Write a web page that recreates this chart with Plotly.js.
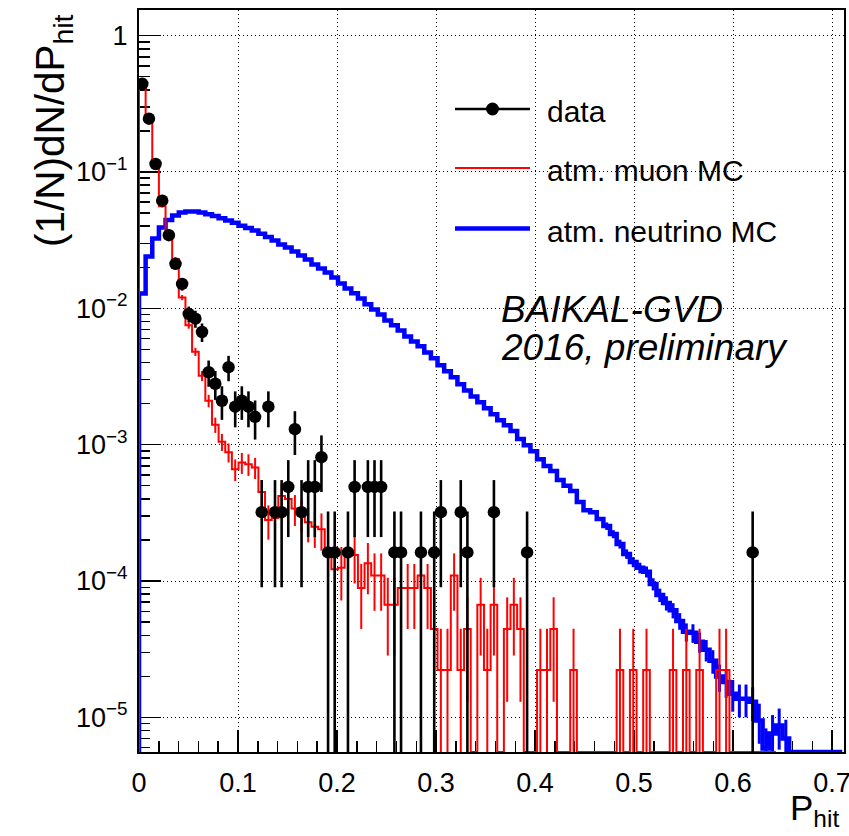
<!DOCTYPE html>
<html>
<head>
<meta charset="utf-8">
<script src="https://cdn.plot.ly/plotly-3.0.1.min.js"></script>
<style>
html,body{margin:0;padding:0;background:#ffffff;}
#chart{width:849px;height:836px;}
</style>
</head>
<body>
<div id="chart"></div>
<script>
// ---------------- data ----------------
const BIN_WIDTH = 0.0067;            // width of one P_hit bin

// data points: bin index, value (1/N dN/dP_hit), statistical error
const dataBins = [0,1,2,3,4,5,6,7,8,9,
  10,11,12,13,14,15,16,17,18,19,
  20,21,22,23,24,25,26,27,28,29,
  31,32,34,35,36,38,39,42,44,45,48,49,53,58,92];
const dataValues = [0.443,0.246,0.1145,0.0616,0.0344,0.0212,0.0151,0.0091,0.0084,0.0067,
  0.0034,0.0028,0.0021,0.0037,0.0019,0.0021,0.0019,0.0016,0.00032,0.0019,
  0.00032,0.00032,0.00049,0.0013,0.00032,0.00049,0.00049,0.00081,0.000162,0.000162,
  0.000162,0.00049,0.00049,0.00049,0.00049,0.000162,0.000162,0.000162,0.000162,0.00032,0.00032,0.000162,0.00032,0.000162,0.000162];
const dataErrors = [0.0085,0.0063,0.0043,0.0032,0.0024,0.0019,0.0016,0.0012,0.0012,0.00104,
  0.00074,0.00067,0.00058,0.00078,0.00056,0.00058,0.00056,0.00051,0.00023,0.00056,
  0.00023,0.00023,0.00028,0.00046,0.00023,0.00028,0.00028,0.00036,0.000162,0.000162,
  0.000162,0.00028,0.00028,0.00028,0.00028,0.000162,0.000162,0.000162,0.000162,0.00023,0.00023,0.000162,0.00023,0.000162,0.000162];

// atm. muon MC histogram (bin contents, one per bin from P_hit = 0)
const muonValues = [0.44,0.24,0.113,0.056,0.036,0.023,0.012,0.0075,0.0048,0.0032,
  0.0021,0.0014,0.00105,0.00088,0.00066,0.00074,0.00072,0.00068,0.00045,0.00028,
  0.00029,0.00042,0.00040,0.00034,0.00031,0.00027,0.00025,0.00024,0.00017,0.000122,
  0.000125,0.00017,0.000155,0.000089,0.000135,0.00011,0.00011,0.000067,0.000067,0.000089,
  0.000089,0.000089,0.00011,0.000089,0.0000445,0.0000223,0.0000223,0.00011,0.0000223,0.0000445,
  0,0.000067,0.0000223,0.000067,0,0.0000445,0.000067,0.0000445,0,0,
  0.0000223,0.0000223,0.0000445,0,0,0.0000223,0,0,0,0,
  0,0,0.0000223,0,0.0000223,0,0.0000223,0,0,0,
  0.0000223,0,0.0000223,0,0.0000223,0,0,0.0000223,0.0000223,0,
  0,0,0,0,0,0];
const muonErrors = [0.0031,0.0023,0.0016,0.0011,0.0009,0.00072,0.00052,0.00041,0.00033,0.00027,
  0.00022,0.00018,0.00015,0.00014,0.00012,0.00013,0.00013,0.00012,0.0001,0.000079,
  0.00008,0.000097,0.000094,0.000087,0.000083,0.000078,0.000075,0.000073,0.000062,0.000052,
  0.000053,0.000062,0.000059,0.0000445,0.000055,0.0000495,0.0000495,0.0000386,0.0000386,0.0000445,
  0.0000445,0.0000445,0.0000495,0.0000445,0.0000315,0.0000223,0.0000223,0.0000495,0.0000223,0.0000315,
  0,0.0000386,0.0000223,0.0000386,0,0.0000315,0.0000386,0.0000315,0,0,
  0.0000223,0.0000223,0.0000315,0,0,0.0000223,0,0,0,0,
  0,0,0.0000223,0,0.0000223,0,0.0000223,0,0,0,
  0.0000223,0,0.0000223,0,0.0000223,0,0,0.0000223,0.0000223,0,
  0,0,0,0,0,0];

// atm. neutrino MC histogram
const neutrinoValues = [0.01285,0.0240,0.0325,0.0391,0.0444,0.0479,0.0504,0.0512,0.0512,0.0504,
  0.0490,0.0475,0.0458,0.0440,0.0424,0.0404,0.0388,0.0372,0.0353,0.0333,
  0.0314,0.0294,0.0279,0.0261,0.0244,0.0228,0.0210,0.0196,0.0183,0.0168,
  0.0152,0.0140,0.0129,0.0118,0.0107,0.00982,0.00902,0.00815,0.00750,0.00689,
  0.00622,0.00572,0.00526,0.00475,0.00430,0.00382,0.00345,0.00312,0.00277,0.00250,
  0.00226,0.00205,0.00185,0.00167,0.00151,0.00139,0.00126,0.00110,0.00099,0.000896,
  0.000783,0.000697,0.000640,0.000550,0.000500,0.000457,0.000380,0.000331,0.000320,0.000285,
  0.000253,0.000221,0.000187,0.000158,0.000138,0.000125,0.000117,0.0000950,0.0000790,0.0000690,
  0.0000610,0.0000510,0.0000424,0.0000417,0.0000358,0.0000313,0.0000260,0.0000199,0.0000182,0.0000149,
  0.0000137,0.0000137,0.0000130,0.0000095,0.0000059,0.0000076,0.0000087,0.0000070,0,0,
  0,0,0,0,0,0];
const neutrinoErrors = [0,0,0,0,0,0,0,0,0,0,
  0,0,0,0,0,0,0,0,0,0,
  0,0,0,0,0,0,0,0,0,0,
  0,0,0,0,0,0,0,0,0,0,
  0,0,0,0,0,0,0,0,0,0,
  0,0,0,0,0,0,0,0,0,0,
  0,0,0,0,0,0,0,0,0,0,
  0.000016,0.000015,0.000014,0.0000126,0.0000117,0.0000112,0.0000108,0.0000097,0.0000089,0.0000083,
  0.0000078,0.0000071,0.0000065,0.0000065,0.000006,0.0000056,0.0000051,0.0000045,0.0000043,0.0000039,
  0.0000037,0.0000037,0.0000036,0.0000031,0.0000024,0.0000028,0.0000029,0.0000026,0,0,
  0,0,0,0,0,0];

// axes
const X_RANGE = [0, 0.712];
const Y_RANGE_LOG = [-5.254, 0.188];
const xTickValues = [0, 0.1, 0.2, 0.3, 0.4, 0.5, 0.6, 0.7];
const xTickLabels = ['0', '0.1', '0.2', '0.3', '0.4', '0.5', '0.6', '0.7'];
const yTickValues = [1e-5, 1e-4, 1e-3, 1e-2, 1e-1, 1];
const yTickLabels = ['10<sup>\u22125</sup>', '10<sup>\u22124</sup>', '10<sup>\u22123</sup>',
                     '10<sup>\u22122</sup>', '10<sup>\u22121</sup>', '1'];
const legendLabels = ['data', 'atm. muon MC', 'atm. neutrino MC'];
const xTitle = 'P<sub>hit</sub>';
const yTitle = '(1/N)dN/dP<sub>hit</sub>';
const stampLines = ['BAIKAL-GVD', '2016, preliminary'];

// ---------------- build the figure ----------------
const FONT = 'Liberation Sans, Arial, Helvetica, sans-serif';
const Y_FLOOR = Math.pow(10, Y_RANGE_LOG[0]);
const RED = '#ff0000', BLUE = '#0000ff';

function stepTrace(values, color, width, name) {
  const xs = [0], ys = [Y_FLOOR];
  values.forEach((v, i) => { xs.push(i * BIN_WIDTH); ys.push(v > 0 ? v : Y_FLOOR); });
  const end = values.length * BIN_WIDTH;
  xs.push(end); ys.push(ys[ys.length - 1]);
  xs.push(end); ys.push(Y_FLOOR);
  return {x: xs, y: ys, type: 'scatter', mode: 'lines', name: name,
          line: {shape: 'hv', color: color, width: width}, hoverinfo: 'skip', showlegend: false};
}
function errorTrace(values, errors, color, thickness) {
  return {x: values.map((v, i) => (i + 0.5) * BIN_WIDTH),
          y: values.map(v => v > 0 ? v : null),
          type: 'scatter', mode: 'markers', marker: {size: 1, color: 'rgba(0,0,0,0)'},
          error_y: {type: 'data', array: errors, symmetric: true, visible: true,
                    color: color, thickness: thickness, width: 0},
          hoverinfo: 'skip', showlegend: false};
}

const traces = [
  stepTrace(neutrinoValues, BLUE, 4.5, legendLabels[2]),
  errorTrace(neutrinoValues, neutrinoErrors, BLUE, 3),
  stepTrace(muonValues, RED, 2, legendLabels[1]),
  errorTrace(muonValues, muonErrors, RED, 2),
  {x: dataBins.map(b => (b + 0.5) * BIN_WIDTH), y: dataValues, type: 'scatter', mode: 'markers',
   name: legendLabels[0], marker: {size: 12.5, color: '#000000'},
   error_y: {type: 'data', array: dataErrors, symmetric: true, visible: true, color: '#000000', thickness: 2.6, width: 0},
   hoverinfo: 'skip', showlegend: false}
];

const yMinor = [];
for (let e = -6; e <= 0; e++) for (let m = 2; m <= 9; m++) {
  const v = m * Math.pow(10, e);
  const l = Math.log10(v);
  if (l > Y_RANGE_LOG[0] && l < Y_RANGE_LOG[1]) yMinor.push(v);
}

// paper-coordinate helpers for plot-relative placement
const M = {l: 139, r: 5, t: 10, b: 84};
const PW = 849 - M.l - M.r, PH = 836 - M.t - M.b;
const px2x = p => (p - M.l) / PW;
const px2y = p => (836 - M.b - p) / PH;

const legendRows = [
  {label: legendLabels[0], y: 109, color: '#000000', width: 2.5},
  {label: legendLabels[1], y: 168, color: RED, width: 2},
  {label: legendLabels[2], y: 228.5, color: BLUE, width: 4.5}
];
const shapes = [];
const annotations = [];
legendRows.forEach((r, i) => {
  shapes.push({type: 'line', xref: 'paper', yref: 'paper', x0: px2x(455), x1: px2x(530),
               y0: px2y(r.y), y1: px2y(r.y), line: {color: r.color, width: r.width}});
  annotations.push({xref: 'paper', yref: 'paper', x: px2x(545), y: px2y(r.y + 2.5), xanchor: 'left', yanchor: 'middle',
                    text: r.label, showarrow: false, font: {family: FONT, size: 30, color: '#000'}});
});
shapes.push({type: 'circle', xref: 'paper', yref: 'paper', xsizemode: 'pixel', ysizemode: 'pixel',
             xanchor: px2x(492.5), yanchor: px2y(109), x0: -6.5, x1: 6.5, y0: -6.5, y1: 6.5,
             fillcolor: '#000', line: {color: '#000', width: 0}});

annotations.push({xref: 'paper', yref: 'paper', x: px2x(499), y: px2y(309), xanchor: 'left', yanchor: 'middle',
                  text: '<i>' + stampLines[0] + '</i>', showarrow: false, font: {family: FONT, size: 37, color: '#000'}});
annotations.push({xref: 'paper', yref: 'paper', x: px2x(499), y: px2y(347.5), xanchor: 'left', yanchor: 'middle',
                  text: '<i>' + stampLines[1] + '</i>', showarrow: false, font: {family: FONT, size: 37, color: '#000'}});
annotations.push({xref: 'paper', yref: 'paper', x: px2x(841), y: px2y(786), xanchor: 'right', yanchor: 'top',
                  text: xTitle, showarrow: false, font: {family: FONT, size: 35, color: '#000'}});
annotations.push({xref: 'paper', yref: 'paper', x: px2x(53), y: px2y(131), xanchor: 'center', yanchor: 'middle',
                  textangle: -90, text: yTitle, showarrow: false, font: {family: FONT, size: 40.5, color: '#000'}});

const commonAxis = {
  showline: true, linecolor: '#000', linewidth: 2, mirror: true, zeroline: false,
  showgrid: true, gridcolor: '#000', gridwidth: 1, griddash: '1px,3px',
  ticks: 'inside', ticklen: 22, tickwidth: 1.5, tickcolor: '#000',
  tickfont: {family: FONT, size: 27, color: '#000'}, layer: 'below traces'
};

const layout = {
  width: 849, height: 836, margin: M,
  paper_bgcolor: '#ffffff', plot_bgcolor: '#ffffff',
  font: {family: FONT, color: '#000'},
  showlegend: false,
  xaxis: Object.assign({}, commonAxis, {
    range: X_RANGE, tickmode: 'array', tickvals: xTickValues, ticktext: xTickLabels,
    ticklabelstandoff: 6, ticklabeloverflow: 'allow',
    minor: {tickmode: 'linear', tick0: 0, dtick: 0.02, ticks: 'inside', ticklen: 11, tickwidth: 1.5, tickcolor: '#000', showgrid: false}
  }),
  yaxis: Object.assign({}, commonAxis, {
    type: 'log', range: Y_RANGE_LOG, tickmode: 'array', tickvals: yTickValues, ticktext: yTickLabels,
    ticklabelstandoff: 4,
    minor: {tickmode: 'array', tickvals: yMinor, ticks: 'inside', ticklen: 11, tickwidth: 1.5, tickcolor: '#000', showgrid: false}
  }),
  shapes: shapes,
  annotations: annotations
};

Plotly.newPlot('chart', traces, layout, {staticPlot: true, displayModeBar: false});
</script>
</body>
</html>
